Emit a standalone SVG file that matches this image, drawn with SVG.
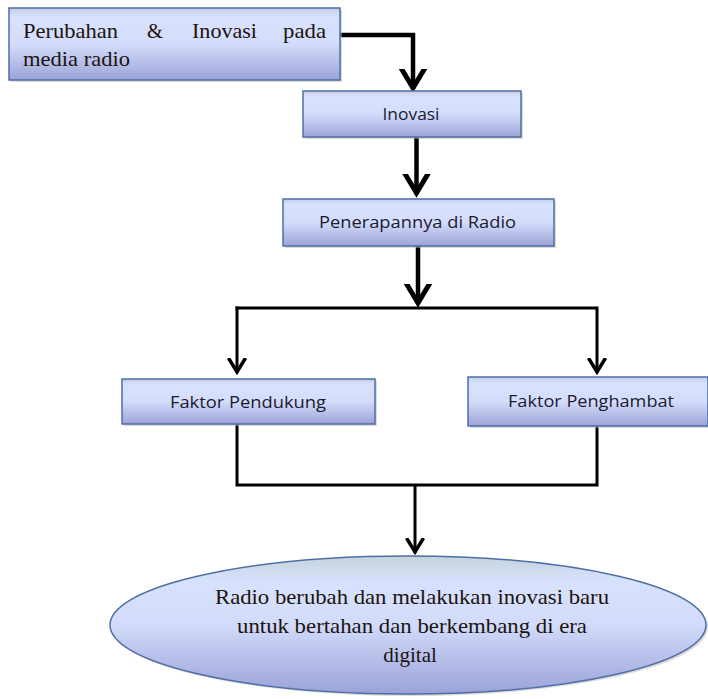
<svg xmlns="http://www.w3.org/2000/svg" width="708" height="699" viewBox="0 0 708 699">
  <defs>
    <linearGradient id="boxFill" x1="0" y1="0" x2="0" y2="1">
      <stop offset="0" stop-color="#c3cde6"/>
      <stop offset="0.12" stop-color="#d9e2fd"/>
      <stop offset="0.5" stop-color="#d3dcfa"/>
      <stop offset="1" stop-color="#9ca3d8"/>
    </linearGradient>
    <linearGradient id="ellFill" x1="0" y1="0" x2="0" y2="1">
      <stop offset="0" stop-color="#c4d3dc"/>
      <stop offset="0.18" stop-color="#d8e1fc"/>
      <stop offset="0.5" stop-color="#d2dbfa"/>
      <stop offset="1" stop-color="#9ba2d8"/>
    </linearGradient>
    <marker id="arrowBig" markerUnits="userSpaceOnUse" markerWidth="40" markerHeight="40" viewBox="-20 -20 40 40" refX="0" refY="0" orient="auto">
      <path d="M-21,-12 L-1,0 L-21,12" fill="none" stroke="#000" stroke-width="5" stroke-linejoin="miter"/>
    </marker>
    <marker id="arrowSmall" markerUnits="userSpaceOnUse" markerWidth="30" markerHeight="30" viewBox="-15 -15 30 30" refX="0" refY="0" orient="auto">
      <path d="M-15,-8.5 L-1,0 L-15,8.5" fill="none" stroke="#000" stroke-width="3.5" stroke-linejoin="miter"/>
    </marker>
  </defs>
  <style>
    .box { fill: url(#boxFill); stroke: #4d6fa6; stroke-width: 1.5; }
    .shadow { fill: #b8b8b8; opacity: 0.5; }
    .ell { fill: url(#ellFill); stroke: #4d6fa6; stroke-width: 1.5; }
    .serif { font-family: "Liberation Serif", "Times New Roman", serif; font-size: 21px; fill: #1c1410; }
    .sans { font-family: "Open Sans", "Liberation Sans", sans-serif; font-size: 17px; fill: #1c1a30; text-anchor: middle; }
    .big { fill: none; stroke: #000; stroke-width: 4.5; }
    .small { fill: none; stroke: #000; stroke-width: 3; }
  </style>

  <g id="connectors">
    <path class="big" d="M340,35 H413 V89" marker-end="url(#arrowBig)"/>
    <path class="big" d="M416.5,137 V194" marker-end="url(#arrowBig)"/>
    <path class="big" d="M418,246 V304" marker-end="url(#arrowBig)"/>
    <path class="small" d="M235.5,308 H597 V373" marker-end="url(#arrowSmall)"/>
    <path class="small" d="M237,306.5 V373" marker-end="url(#arrowSmall)"/>
    <path class="small" d="M237,424 V485 H597 V426"/>
    <path class="small" d="M415,485 V553" marker-end="url(#arrowSmall)"/>
  </g>

  <g id="node-perubahan">
    <rect class="shadow" x="11" y="10" width="331" height="72"/>
    <rect class="box" x="9" y="8" width="331" height="72"/>
    <text class="serif" x="23" y="38" textLength="95" lengthAdjust="spacingAndGlyphs">Perubahan</text>
    <text class="serif" x="147" y="38" textLength="16" lengthAdjust="spacingAndGlyphs">&amp;</text>
    <text class="serif" x="192" y="38" textLength="65" lengthAdjust="spacingAndGlyphs">Inovasi</text>
    <text class="serif" x="283" y="38" textLength="43" lengthAdjust="spacingAndGlyphs">pada</text>
    <text class="serif" x="23" y="66" textLength="107" lengthAdjust="spacingAndGlyphs">media radio</text>
  </g>

  <g id="node-inovasi">
    <rect class="shadow" x="305" y="93" width="218" height="46"/>
    <rect class="box" x="303" y="91" width="218" height="46"/>
    <text class="sans" x="411" y="120" textLength="57" lengthAdjust="spacingAndGlyphs">Inovasi</text>
  </g>

  <g id="node-penerapan">
    <rect class="shadow" x="285" y="201" width="271" height="47"/>
    <rect class="box" x="283" y="199" width="271" height="47"/>
    <text class="sans" x="417.5" y="228" textLength="197" lengthAdjust="spacingAndGlyphs">Penerapannya di Radio</text>
  </g>

  <g id="node-pendukung">
    <rect class="shadow" x="124" y="381" width="253" height="45"/>
    <rect class="box" x="122" y="379" width="253" height="45"/>
    <text class="sans" x="248" y="408" textLength="156" lengthAdjust="spacingAndGlyphs">Faktor Pendukung</text>
  </g>

  <g id="node-penghambat">
    <rect class="shadow" x="470" y="379" width="240" height="49"/>
    <rect class="box" x="468" y="377" width="240" height="49"/>
    <text class="sans" x="591" y="407" textLength="166" lengthAdjust="spacingAndGlyphs">Faktor Penghambat</text>
  </g>

  <g id="node-hasil">
    <ellipse class="shadow" cx="410" cy="627" rx="298" ry="69"/>
    <ellipse class="ell" cx="408" cy="625" rx="298" ry="69"/>
    <text class="serif" x="412" y="604" text-anchor="middle" textLength="394" lengthAdjust="spacingAndGlyphs">Radio berubah dan melakukan inovasi baru</text>
    <text class="serif" x="412" y="633" text-anchor="middle" textLength="350" lengthAdjust="spacingAndGlyphs">untuk bertahan dan berkembang di era</text>
    <text class="serif" x="410" y="662" text-anchor="middle">digital</text>
  </g>
</svg>
